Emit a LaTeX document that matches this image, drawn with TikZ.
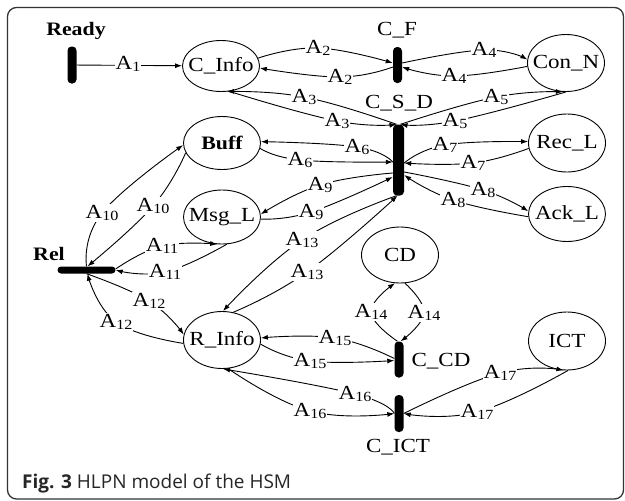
\documentclass[tikz,border=0pt]{standalone}
\usepackage{fontspec}
\setmainfont{Liberation Serif}[FakeStretch=1.15]
\newfontfamily\capfont{Open Sans}
\usetikzlibrary{shapes.geometric,arrows.meta}
\pgfdeclarelayer{bg}
\pgfsetlayers{bg,main}
\newcommand{\lbl}[1]{A\raisebox{-2.5pt}{\fontsize{14}{14}\selectfont #1}}
\newcommand{\pn}[3]{\draw[edgeline] plot[smooth,tension=0.75] coordinates {#1 (#2.center) #3};}
\begin{document}
\begin{tikzpicture}[x=1pt,y=-1pt,
  plc/.style={ellipse, draw, line width=0.9pt, minimum width=77pt, inner xsep=-9pt, inner ysep=-4pt, font=\fontsize{20}{20}\selectfont},
  trn/.style={fill=black, rounded corners=4pt, inner sep=0pt},
  lab/.style={fill=white, inner sep=0.8pt, font=\fontsize{20}{20}\selectfont},
  txt/.style={inner sep=0pt, font=\fontsize{20}{20}\selectfont},
  boldtxt/.style={inner sep=0pt, font=\fontsize{19}{19}\selectfont\bfseries},
  edgeline/.style={line width=0.9pt, -{Latex[length=7pt,width=5pt]}},
  frm/.style={draw=black!80, line width=1.3pt, rounded corners=9pt}
  ]
\useasboundingbox (0,0) rectangle (625,501);
\path[frm] (7.5,7.5) rectangle (623.5,499);

% places
\node[plc, minimum height=51pt] (cinfo) at (221,66) {C\_Info};
\node[plc, minimum height=53pt, font=\fontsize{19}{19}\selectfont\bfseries] (buff) at (222,143) {Buff};
\node[plc, minimum height=54pt] (msgl) at (222,217) {Msg\_L};
\node[plc, minimum height=57pt] (rinfo) at (222,340) {R\_Info};
\node[plc, minimum height=57pt] (conn) at (566,63) {Con\_N};
\node[plc, minimum height=58pt] (recl) at (567,143) {Rec\_L};
\node[plc, minimum height=55pt] (ackl) at (567,214) {Ack\_L};
\node[plc, minimum height=56pt] (cd) at (400,255) {CD};
\node[plc, minimum height=58pt] (ict) at (567,341) {ICT};

% transitions
\node[trn, minimum width=9pt, minimum height=37pt] (ready) at (72,65) {};
\node[trn, minimum width=9pt, minimum height=36pt] (cf) at (397.5,65) {};
\node[trn, minimum width=11pt, minimum height=71pt] (csd) at (398.5,160) {};
\node[trn, minimum width=9pt, minimum height=36pt] (ccd) at (399,359.5) {};
\node[trn, minimum width=9pt, minimum height=37pt] (cict) at (399,413.5) {};
\node[trn, minimum width=58pt, minimum height=7pt, rounded corners=3.5pt] (rel) at (86.5,270) {};

% transition names
\node[boldtxt] (readylbl) at (76,31) {Ready};
\node[txt] (cflbl) at (397,30) {C\_F};
\node[txt] (csdlbl) at (399,103) {C\_S\_D};
\node[txt] (ccdlbl) at (441,361) {C\_CD};
\node[txt] (cictlbl) at (398,447) {C\_ICT};
\node[boldtxt] (rellbl) at (49,254) {Rel};

% arc labels
\node[lab] (l1) at (128,64) {\lbl{1}};
\node[lab] (l2u) at (318,48) {\lbl{2}};
\node[lab] (l2l) at (340,77) {\lbl{2}};
\node[lab] (l4u) at (484,50) {\lbl{4}};
\node[lab] (l4l) at (454,76) {\lbl{4}};
\node[lab] (l3u) at (304,97) {\lbl{3}};
\node[lab] (l3l) at (337,121) {\lbl{3}};
\node[lab] (l5u) at (496,97) {\lbl{5}};
\node[lab] (l5l) at (455,121) {\lbl{5}};
\node[lab] (l6u) at (357,147) {\lbl{6}};
\node[lab] (l6l) at (300,160) {\lbl{6}};
\node[lab] (l7u) at (445,145) {\lbl{7}};
\node[lab] (l7l) at (473,163) {\lbl{7}};
\node[lab] (l8u) at (483,190) {\lbl{8}};
\node[lab] (l8l) at (453,200) {\lbl{8}};
\node[lab] (l9u) at (320,185) {\lbl{9}};
\node[lab] (l9l) at (311,212) {\lbl{9}};
\node[lab] (l10l) at (102,213) {\lbl{10}};
\node[lab] (l10r) at (153,206) {\lbl{10}};
\node[lab] (l11u) at (162,246) {\lbl{11}};
\node[lab] (l11l) at (165,272) {\lbl{11}};
\node[lab] (l12u) at (149,301) {\lbl{12}};
\node[lab] (l12l) at (116,322) {\lbl{12}};
\node[lab] (l13u) at (302,240) {\lbl{13}};
\node[lab] (l13l) at (307,272) {\lbl{13}};
\node[lab] (l14l) at (371,312) {\lbl{14}};
\node[lab] (l14r) at (424,313) {\lbl{14}};
\node[lab] (l15u) at (335,338) {\lbl{15}};
\node[lab] (l15l) at (310,361) {\lbl{15}};
\node[lab] (l16u) at (355,394) {\lbl{16}};
\node[lab] (l16l) at (310,411) {\lbl{16}};
\node[lab] (l17u) at (500,373) {\lbl{17}};
\node[lab] (l17l) at (477,412) {\lbl{17}};

% caption
\node[anchor=base west, inner sep=0pt, font=\capfont\fontsize{19}{19}\selectfont, text=black!85] (cap) at (22,488) {\textbf{Fig. 3} HLPN model of the HSM};

\begin{pgfonlayer}{bg}
\draw[edgeline] (ready) -- (cinfo);
\pn{(cinfo.12)}{l2u}{([yshift=2pt]cf.west)}
\pn{([yshift=-2pt]cf.west)}{l2l}{(cinfo.-3)}
\pn{([yshift=2pt]cf.east)}{l4u}{(conn.175)}
\pn{(conn.185)}{l4l}{([yshift=-2pt]cf.east)}
\pn{([xshift=-2pt]csd.north)}{l3u}{(cinfo.-77)}
\pn{(cinfo.-72)}{l3l}{([xshift=-2pt]csd.north)}
\pn{([xshift=2pt]csd.north)}{l5u}{(conn.-96)}
\pn{(conn.-90)}{l5l}{([xshift=2pt]csd.north)}
\pn{([yshift=-2pt]csd.west)}{l6u}{(buff.2)}
\pn{(buff.-8)}{l6l}{([yshift=-2pt]csd.west)}
\pn{([yshift=-3pt]csd.east)}{l7u}{(recl.178)}
\pn{(recl.188)}{l7l}{([yshift=-3pt]csd.east)}
\pn{([yshift=-12pt]csd.east)}{l8u}{(ackl.176)}
\pn{(ackl.184)}{l8l}{([yshift=-15pt]csd.east)}
\pn{([yshift=-13pt]csd.west)}{l9u}{(msgl.4)}
\pn{(msgl.-3)}{l9l}{([yshift=-17pt]csd.west)}
\pn{([xshift=-2pt]csd.south)}{l13u}{(rinfo.88)}
\pn{(rinfo.68)}{l13l}{([xshift=-1pt]csd.south)}
\pn{(rel.north)}{l10l}{(buff.183)}
\pn{(buff.195)}{l10r}{([xshift=1pt]rel.north)}
\pn{([yshift=1pt]rel.east)}{l11u}{(msgl.-100)}
\pn{(msgl.-80)}{l11l}{(rel.east)}
\pn{(rel.south)}{l12u}{(rinfo.172)}
\pn{(rinfo.185)}{l12l}{([xshift=1pt]rel.south)}
\pn{([xshift=-1.5pt]ccd.north)}{l14l}{(cd.-100)}
\pn{(cd.-80)}{l14r}{([xshift=1.5pt]ccd.north)}
\pn{([yshift=1pt]ccd.west)}{l15u}{(rinfo.3)}
\pn{(rinfo.-6)}{l15l}{([yshift=-1pt]ccd.west)}
\pn{(cict.west)}{l16u}{(rinfo.-88)}
\pn{(rinfo.-78)}{l16l}{(cict.west)}
\pn{(cict.east)}{l17u}{(ict.-97)}
\pn{(ict.-88)}{l17l}{(cict.east)}
\end{pgfonlayer}
\end{tikzpicture}
\end{document}
